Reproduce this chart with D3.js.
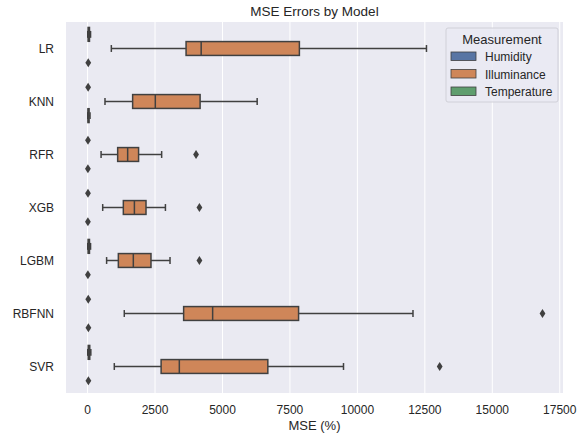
<!DOCTYPE html>
<html>
<head>
<meta charset="utf-8">
<script src="https://cdn.jsdelivr.net/npm/d3@7"></script>
<style>
  body { margin: 0; background: #fff; }
  svg { font-family: "Liberation Sans", Arial, sans-serif; }
</style>
</head>
<body>
<svg id="chart" width="585" height="439"></svg>
<script>
const models = ["LR", "KNN", "RFR", "XGB", "LGBM", "RBFNN", "SVR"];
const measurements = ["Humidity", "Illuminance", "Temperature"];
const xTicks = [0, 2500, 5000, 7500, 10000, 12500, 15000, 17500];

// box stats per model: [low whisker, q1, median, q3, high whisker], null = no box drawn
const humidityBoxes = [[5, 20, 40, 70, 110], null, null, null, [5, 20, 40, 70, 110], null, [5, 25, 45, 80, 120]];
const illuminanceBoxes = [
    [880, 3650, 4210, 7850, 12560],
    [645, 1670, 2510, 4170, 6285],
    [500, 1115, 1485, 1890, 2745],
    [560, 1325, 1735, 2165, 2885],
    [705, 1140, 1695, 2350, 3055],
    [1360, 3560, 4635, 7820, 12060],
    [990, 2725, 3400, 6680, 9485]
];
const temperatureBoxes = [null, [5, 15, 30, 55, 90], null, null, null, null, null];

// outliers per model
const humidityFliers = [[], [20], [15], [15], [], [25], []];
const illuminanceFliers = [[], [], [4020], [4145], [4145], [16860], [13050]];
const temperatureFliers = [[25], [], [12], [12], [12], [30], [30]];

const boxes = { Humidity: humidityBoxes, Illuminance: illuminanceBoxes, Temperature: temperatureBoxes };
const fliers = { Humidity: humidityFliers, Illuminance: illuminanceFliers, Temperature: temperatureFliers };
const colors = { Humidity: "#5875a4", Illuminance: "#cf8659", Temperature: "#5f9e6e" };
const edge = "#404040";

const svg = d3.select("#chart");
const mLeft = 66, mRight = 563, mTop = 22, mBottom = 393;

const x = d3.scaleLinear().domain([-800, 17620]).range([mLeft, mRight]);
const y = d3.scaleBand().domain(models).range([mTop, mBottom]).padding(0);
const hue = d3.scaleBand().domain(measurements).range([-y.bandwidth() * 0.4, y.bandwidth() * 0.4]);
const boxH = hue.bandwidth() * 0.98;

svg.append("rect")
    .attr("x", mLeft).attr("y", mTop)
    .attr("width", mRight - mLeft).attr("height", mBottom - mTop)
    .attr("fill", "#eaeaf2");

// vertical grid
svg.append("g").selectAll("line")
    .data(xTicks)
    .enter().append("line")
    .attr("x1", d => x(d)).attr("x2", d => x(d))
    .attr("y1", mTop).attr("y2", mBottom)
    .attr("stroke", "#fff").attr("stroke-width", 1);

const plot = svg.append("g");

measurements.forEach(m => {
    models.forEach((model, i) => {
        const cy = y(model) + y.bandwidth() / 2 + hue(m) + hue.bandwidth() / 2;
        const b = boxes[m][i];
        if (b) {
            const [lo, q1, med, q3, hi] = b;
            const g = plot.append("g").attr("stroke", edge).attr("stroke-width", 1.5);
            g.append("line").attr("x1", x(lo)).attr("x2", x(q1)).attr("y1", cy).attr("y2", cy);
            g.append("line").attr("x1", x(q3)).attr("x2", x(hi)).attr("y1", cy).attr("y2", cy);
            g.append("line").attr("x1", x(lo)).attr("x2", x(lo)).attr("y1", cy - boxH / 4).attr("y2", cy + boxH / 4);
            g.append("line").attr("x1", x(hi)).attr("x2", x(hi)).attr("y1", cy - boxH / 4).attr("y2", cy + boxH / 4);
            g.append("rect")
                .attr("x", x(q1)).attr("y", cy - boxH / 2)
                .attr("width", Math.max(0, x(q3) - x(q1))).attr("height", boxH)
                .attr("fill", colors[m]);
            g.append("line").attr("x1", x(med)).attr("x2", x(med))
                .attr("y1", cy - boxH / 2).attr("y2", cy + boxH / 2);
        }
        plot.selectAll(null)
            .data(fliers[m][i])
            .enter().append("path")
            .attr("d", "M0,-4.5L2.9,0L0,4.5L-2.9,0Z")
            .attr("transform", d => `translate(${x(d)},${cy})`)
            .attr("fill", edge);
    });
});

// x axis ticks
svg.append("g").selectAll("text")
    .data(xTicks)
    .enter().append("text")
    .attr("x", d => x(d)).attr("y", 414)
    .attr("text-anchor", "middle")
    .attr("font-size", 12).attr("fill", "#262626")
    .text(d => d);

// y axis ticks
svg.append("g").selectAll("text")
    .data(models)
    .enter().append("text")
    .attr("x", mLeft - 12).attr("y", d => y(d) + y.bandwidth() / 2 + 4.5)
    .attr("text-anchor", "end")
    .attr("font-size", 12).attr("fill", "#262626")
    .text(d => d);

svg.append("text")
    .attr("x", (mLeft + mRight) / 2).attr("y", 430)
    .attr("text-anchor", "middle").attr("font-size", 13).attr("fill", "#262626")
    .text("MSE (%)");

svg.append("text")
    .attr("x", (mLeft + mRight) / 2).attr("y", 16)
    .attr("text-anchor", "middle").attr("font-size", 13.5).attr("fill", "#262626")
    .text("MSE Errors by Model");

// legend
const legend = svg.append("g").attr("transform", "translate(446,28)");
legend.append("rect")
    .attr("width", 112).attr("height", 74).attr("rx", 2)
    .attr("fill", "#eaeaf2").attr("fill-opacity", 0.8)
    .attr("stroke", "#d0d0d8");
legend.append("text")
    .attr("x", 56).attr("y", 16)
    .attr("text-anchor", "middle").attr("font-size", 13).attr("fill", "#262626")
    .text("Measurement");
const item = legend.selectAll(".item")
    .data(measurements)
    .enter().append("g")
    .attr("class", "item")
    .attr("transform", (d, i) => `translate(5,${24 + i * 17.5})`);
item.append("rect")
    .attr("width", 25).attr("height", 8.5)
    .attr("fill", d => colors[d]).attr("stroke", edge).attr("stroke-width", 0.8);
item.append("text")
    .attr("x", 34).attr("y", 9)
    .attr("font-size", 12).attr("fill", "#262626")
    .text(d => d);
</script>
</body>
</html>
